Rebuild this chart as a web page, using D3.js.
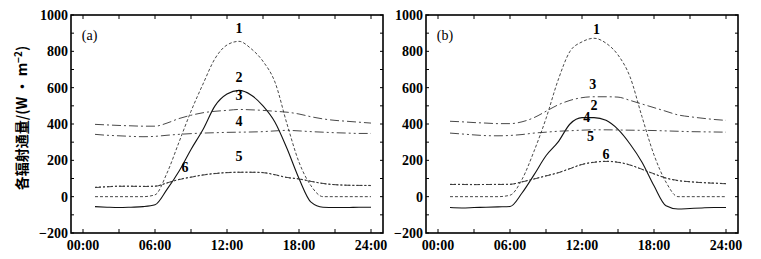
<!DOCTYPE html>
<html>
<head>
<meta charset="utf-8">
<script src="https://cdn.jsdelivr.net/npm/d3@7"></script>
<style>
  body { margin: 0; background: #fff; }
  svg { display: block; font-family: "Liberation Serif", "DejaVu Serif", serif; }
</style>
</head>
<body>
<svg id="chart" width="761" height="259"></svg>
<script>
// hourly values, 01:00 .. 24:00
const hours = [1,2,3,4,5,6,7,8,9,10,11,12,13,14,15,16,17,18,19,20,21,22,23,24];
const xTickLabels = ["00:00", "06:00", "12:00", "18:00", "24:00"];
const yTicks = [-200, 0, 200, 400, 600, 800, 1000];

// panel (a)
const a1 = [0,0,0,0,0,10,130,300,470,620,760,835,855,815,745,630,400,190,60,0,0,0,0,0];
const a2 = [-55,-58,-60,-58,-55,-45,40,140,260,370,500,565,585,560,500,410,265,100,-30,-58,-60,-60,-58,-58];
const a3 = [398,395,392,390,388,388,405,430,448,462,470,475,480,478,475,470,465,455,440,428,420,415,410,405];
const a4 = [343,338,335,332,330,332,338,343,347,350,352,354,355,356,358,362,365,362,358,355,352,350,348,348];
const a5 = [52,55,58,58,57,58,75,95,108,120,128,133,135,135,133,120,105,98,85,72,66,63,62,62];
const a6 = [50,54,57,57,56,57,76,94,107,119,127,132,134,134,132,121,106,97,84,73,66,63,62,61];

// panel (b)
const b1 = [0,0,0,0,0,8,95,250,430,640,800,852,872,845,780,660,440,230,80,0,0,0,0,0];
const b2 = [-60,-62,-60,-58,-56,-54,20,120,225,300,400,435,435,420,370,290,190,60,-50,-68,-65,-62,-60,-60];
const b3 = [415,412,408,405,402,402,412,435,470,505,530,545,550,550,548,530,510,490,470,450,440,432,425,420];
const b4 = [350,345,340,336,335,337,342,350,355,360,363,366,368,368,367,366,365,364,362,360,358,357,356,355];
const b5 = [68,68,67,67,68,68,82,98,115,132,155,178,190,195,190,175,150,125,102,88,82,78,75,72];
const b6 = [67,67,66,67,67,68,81,97,114,131,154,177,189,194,189,174,151,126,103,89,82,77,74,71];

// curve number labels: [number, hour, value]
const aLabels = [["1",13,900],["2",13,630],["3",13,530],["4",13,390],["5",13,195],["6",8.5,135]];
const bLabels = [["1",13.2,895],["3",12.9,590],["2",13,475],["4",12.4,410],["5",12.7,305],["6",14,210]];

const dashes = ["3,2", null, "9,3,2,3", "9,3,2,3,2,3", "2,2", "6,2,2,2"];

const svg = d3.select("#chart");

function drawPanel(left, right, series, labels, tag) {
  const x = d3.scaleLinear().domain([-1, 25]).range([left, right]);
  const y = d3.scaleLinear().domain([-200, 1000]).range([233, 15]);
  const g = svg.append("g");

  // inward ticks on all four sides
  const yMinor = d3.range(-200, 1001, 100);
  const xMinor = d3.range(0, 25, 3);
  g.selectAll(".ytl").data(yMinor).enter().append("line")
    .attr("x1", left).attr("x2", left + 3)
    .attr("y1", d => y(d)).attr("y2", d => y(d))
    .attr("stroke", "#000");
  g.selectAll(".ytr").data(yMinor).enter().append("line")
    .attr("x1", right).attr("x2", right - 3)
    .attr("y1", d => y(d)).attr("y2", d => y(d))
    .attr("stroke", "#000");
  g.selectAll(".xtb").data(xMinor).enter().append("line")
    .attr("x1", d => x(d)).attr("x2", d => x(d))
    .attr("y1", y(-200)).attr("y2", y(-200) - 4)
    .attr("stroke", "#000");
  g.selectAll(".xtt").data(xMinor).enter().append("line")
    .attr("x1", d => x(d)).attr("x2", d => x(d))
    .attr("y1", y(1000)).attr("y2", y(1000) + 4)
    .attr("stroke", "#000");

  g.selectAll(".yl").data(yTicks).enter().append("text")
    .attr("x", left - 3).attr("y", d => y(d) + 5)
    .attr("text-anchor", "end")
    .attr("font-size", 14).attr("font-weight", "bold")
    .text(d => d < 0 ? "\u2212" + (-d) : d);
  g.selectAll(".xl").data(xTickLabels).enter().append("text")
    .attr("x", (d, i) => x(i * 6)).attr("y", 250)
    .attr("text-anchor", "middle")
    .attr("font-size", 14).attr("font-weight", "bold")
    .text(d => d);

  const line = d3.line()
    .x((d, i) => x(hours[i]))
    .y(d => y(d))
    .curve(d3.curveMonotoneX);
  series.forEach((s, k) => {
    g.append("path").datum(s)
      .attr("d", line)
      .attr("fill", "none")
      .attr("stroke", k === 1 ? "#111" : "#333")
      .attr("stroke-width", k === 1 ? 1.1 : 0.9)
      .attr("stroke-dasharray", dashes[k]);
  });

  g.selectAll(".cl").data(labels).enter().append("text")
    .attr("x", d => x(d[1])).attr("y", d => y(d[2]))
    .attr("text-anchor", "middle")
    .attr("font-size", 14).attr("font-weight", "bold")
    .text(d => d[0]);

  g.append("text")
    .attr("x", x(-0.1)).attr("y", y(860))
    .attr("font-size", 14)
    .text(tag);

  g.append("rect")
    .attr("x", left).attr("y", 15)
    .attr("width", right - left).attr("height", 218)
    .attr("fill", "none").attr("stroke", "#000").attr("stroke-width", 1.6);
}

drawPanel(71, 383, [a1, a2, a3, a4, a5, a6], aLabels, "(a)");
drawPanel(426, 738, [b1, b2, b3, b4, b5, b6], bLabels, "(b)");

// y-axis title
const title = svg.append("text")
  .attr("transform", "translate(27,118) rotate(-90)")
  .attr("text-anchor", "middle")
  .attr("font-size", 14)
  .attr("font-family", "'Noto Sans CJK SC', 'Liberation Serif', serif")
  .attr("font-weight", "bold");
title.append("tspan").text("各辐射通量/(W · m");
title.append("tspan").attr("dy", -5).attr("font-size", 10).text("−2");
title.append("tspan").attr("dy", 5).text(")");
</script>
</body>
</html>
